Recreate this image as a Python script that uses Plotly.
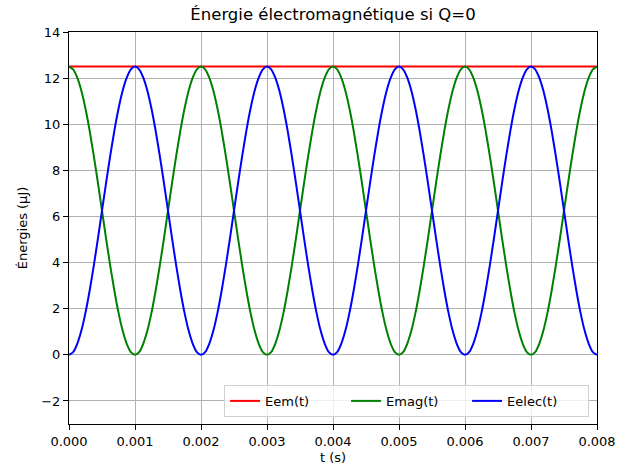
import numpy as np
import plotly.graph_objects as go

# time samples (s)
t = np.linspace(0, 0.008, 129)
t_eem = [0.0, 0.008]
eem = [12.5, 12.5]

emag = [12.5, 12.38, 12.02, 11.45, 10.67, 9.72, 8.64, 7.47, 6.25, 5.03, 3.86, 2.78, 1.83, 1.05, 0.48, 0.12,
        0, 0.12, 0.48, 1.05, 1.83, 2.78, 3.86, 5.03, 6.25, 7.47, 8.64, 9.72, 10.67, 11.45, 12.02, 12.38,
        12.5, 12.38, 12.02, 11.45, 10.67, 9.72, 8.64, 7.47, 6.25, 5.03, 3.86, 2.78, 1.83, 1.05, 0.48, 0.12,
        0, 0.12, 0.48, 1.05, 1.83, 2.78, 3.86, 5.03, 6.25, 7.47, 8.64, 9.72, 10.67, 11.45, 12.02, 12.38,
        12.5, 12.38, 12.02, 11.45, 10.67, 9.72, 8.64, 7.47, 6.25, 5.03, 3.86, 2.78, 1.83, 1.05, 0.48, 0.12,
        0, 0.12, 0.48, 1.05, 1.83, 2.78, 3.86, 5.03, 6.25, 7.47, 8.64, 9.72, 10.67, 11.45, 12.02, 12.38,
        12.5, 12.38, 12.02, 11.45, 10.67, 9.72, 8.64, 7.47, 6.25, 5.03, 3.86, 2.78, 1.83, 1.05, 0.48, 0.12,
        0, 0.12, 0.48, 1.05, 1.83, 2.78, 3.86, 5.03, 6.25, 7.47, 8.64, 9.72, 10.67, 11.45, 12.02, 12.38,
        12.5]
eelec = [0, 0.12, 0.48, 1.05, 1.83, 2.78, 3.86, 5.03, 6.25, 7.47, 8.64, 9.72, 10.67, 11.45, 12.02, 12.38,
         12.5, 12.38, 12.02, 11.45, 10.67, 9.72, 8.64, 7.47, 6.25, 5.03, 3.86, 2.78, 1.83, 1.05, 0.48, 0.12,
         0, 0.12, 0.48, 1.05, 1.83, 2.78, 3.86, 5.03, 6.25, 7.47, 8.64, 9.72, 10.67, 11.45, 12.02, 12.38,
         12.5, 12.38, 12.02, 11.45, 10.67, 9.72, 8.64, 7.47, 6.25, 5.03, 3.86, 2.78, 1.83, 1.05, 0.48, 0.12,
         0, 0.12, 0.48, 1.05, 1.83, 2.78, 3.86, 5.03, 6.25, 7.47, 8.64, 9.72, 10.67, 11.45, 12.02, 12.38,
         12.5, 12.38, 12.02, 11.45, 10.67, 9.72, 8.64, 7.47, 6.25, 5.03, 3.86, 2.78, 1.83, 1.05, 0.48, 0.12,
         0, 0.12, 0.48, 1.05, 1.83, 2.78, 3.86, 5.03, 6.25, 7.47, 8.64, 9.72, 10.67, 11.45, 12.02, 12.38,
         12.5, 12.38, 12.02, 11.45, 10.67, 9.72, 8.64, 7.47, 6.25, 5.03, 3.86, 2.78, 1.83, 1.05, 0.48, 0.12,
         0]

x_ticks = [0.000, 0.001, 0.002, 0.003, 0.004, 0.005, 0.006, 0.007, 0.008]
x_tick_labels = ["0.000", "0.001", "0.002", "0.003", "0.004", "0.005", "0.006", "0.007", "0.008"]
y_ticks = [-2, 0, 2, 4, 6, 8, 10, 12, 14]
y_tick_labels = ["\u22122", "0", "2", "4", "6", "8", "10", "12", "14"]

fig = go.Figure()
fig.add_trace(go.Scatter(x=t_eem, y=eem, mode="lines", name="Eem(t)",
                         line=dict(color="red", width=2)))
fig.add_trace(go.Scatter(x=t, y=emag, mode="lines", name="Emag(t)",
                         line=dict(color="#008000", width=2, shape="spline", smoothing=0.6)))
fig.add_trace(go.Scatter(x=t, y=eelec, mode="lines", name="Eelec(t)",
                         line=dict(color="blue", width=2, shape="spline", smoothing=0.6)))

axis_common = dict(showline=True, linecolor="black", linewidth=1, mirror=True,
                   ticks="outside", ticklen=5, tickcolor="black", tickwidth=1,
                   showgrid=True, gridcolor="#b0b0b0", gridwidth=0.8, zeroline=False,
                   automargin=False,
                   tickfont=dict(size=13, color="black"))

fig.update_layout(
    width=632, height=474,
    margin=dict(l=69, r=35, t=32, b=50),
    paper_bgcolor="white", plot_bgcolor="white",
    font=dict(family="DejaVu Sans", size=13, color="black"),
    title=dict(text="Énergie électromagnétique si Q=0", x=0.5, xref="paper",
               y=1 - 14 / 474, yref="container", yanchor="middle", xanchor="center",
               font=dict(size=16.5)),
    xaxis=dict(range=[0, 0.008], tickvals=x_ticks, ticktext=x_tick_labels,
               title=dict(text="t (s)", standoff=5, font=dict(size=13)), **axis_common),
    yaxis=dict(range=[-3, 14], tickvals=y_ticks, ticktext=y_tick_labels,
               title=dict(text="Énergies (µJ)", standoff=10, font=dict(size=13)), **axis_common),
    legend=dict(orientation="h", x=0.985, xanchor="right", y=0.018, yanchor="bottom",
                bgcolor="rgba(255,255,255,0.8)", bordercolor="#d0d0d0", borderwidth=1,
                font=dict(size=13), itemwidth=30, tracegroupgap=0,
                entrywidth=76, entrywidthmode="pixels"),
    showlegend=True,
)

fig.write_html("out.html", config={"displayModeBar": False},
               post_script="document.body.style.margin='0px';")
